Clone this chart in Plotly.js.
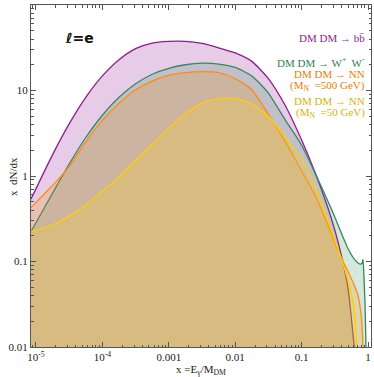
<!DOCTYPE html>
<html>
<head>
<meta charset="utf-8">
<script src="https://cdn.plot.ly/plotly-3.0.1.min.js"></script>
<style>html,body{margin:0;padding:0;background:#fff;}#chart{width:374px;height:377px;}</style>
</head>
<body>
<div id="chart"></div>
<script>
// DM DM -> b bbar (purple)
const bbX = [8.41e-6, 1.78e-5, 3.16e-5, 5.62e-5, 1e-4, 1.78e-4, 3.16e-4, 5.62e-4, 1e-3, 1.78e-3, 3.16e-3, 5.62e-3, 0.01, 0.0178, 0.0316, 0.0562, 0.1, 0.158, 0.251, 0.316, 0.398, 0.501, 0.603, 0.631];
const bbY = [0.537, 1.78, 4.07, 8.32, 14.8, 22.9, 30.9, 35.9, 37.6, 37.6, 35.5, 31.6, 27.5, 21.9, 13.8, 6.76, 2.63, 1.12, 0.417, 0.234, 0.117, 0.0479, 0.0126, 0.00891];
// DM DM -> W+ W- (green)
const wwX = [8.41e-6, 1.78e-5, 3.16e-5, 5.62e-5, 1e-4, 1.78e-4, 3.16e-4, 5.62e-4, 1e-3, 1.78e-3, 3.16e-3, 5.62e-3, 0.01, 0.0178, 0.0316, 0.0562, 0.1, 0.158, 0.251, 0.316, 0.398, 0.501, 0.631, 0.759, 0.813, 0.841, 0.871, 0.902, 0.933];
const wwY = [0.224, 0.631, 1.38, 2.82, 5.13, 8.32, 12.0, 15.5, 18.2, 20.0, 20.9, 20.4, 18.6, 14.8, 9.33, 4.57, 2.29, 1.10, 0.501, 0.331, 0.214, 0.141, 0.105, 0.0933, 0.0955, 0.106, 0.0631, 0.0316, 0.01];
// DM DM -> NN, M_N = 500 GeV (orange)
const nn500X = [8.41e-6, 1.33e-5, 1.78e-5, 3.16e-5, 5.62e-5, 1e-4, 1.78e-4, 3.16e-4, 5.62e-4, 1e-3, 1.78e-3, 3.16e-3, 5.62e-3, 0.01, 0.0178, 0.0316, 0.0562, 0.1, 0.158, 0.251, 0.316, 0.398, 0.501, 0.631, 0.708, 0.794, 0.841];
const nn500Y = [0.427, 0.617, 0.776, 1.29, 2.51, 4.47, 7.08, 10.2, 12.9, 15.1, 16.2, 16.6, 16.2, 13.8, 10.2, 5.25, 2.57, 1.15, 0.603, 0.263, 0.166, 0.110, 0.0759, 0.0513, 0.0398, 0.0224, 0.01];
// DM DM -> NN, M_N = 50 GeV (yellow)
const nn50X = [8.41e-6, 1.78e-5, 3.16e-5, 5.62e-5, 1e-4, 1.78e-4, 3.16e-4, 5.62e-4, 1e-3, 1.78e-3, 3.16e-3, 5.62e-3, 7.94e-3, 0.01, 0.0178, 0.0316, 0.0562, 0.1, 0.158, 0.251, 0.316, 0.398, 0.501, 0.631, 0.676];
const nn50Y = [0.224, 0.269, 0.339, 0.457, 0.661, 0.977, 1.51, 2.34, 3.63, 5.37, 7.08, 8.04, 8.13, 8.04, 6.92, 5.01, 2.88, 1.58, 0.776, 0.302, 0.178, 0.107, 0.0603, 0.0251, 0.01];

const xTickVals = [1e-5, 1e-4, 1e-3, 0.01, 0.1, 1];
const xTickText = ['10<sup>-5</sup>', '10<sup>-4</sup>', '0.001', '0.01', '0.1', '1'];
const yTickVals = [0.01, 0.1, 1, 10, 100];
const yTickText = ['0.01', '0.1', '1', '10', '100'];

const series = [
  {x: bbX, y: bbY, line: 'rgb(142,28,142)', fill: 'rgba(128,0,128,0.2)'},
  {x: wwX, y: wwY, line: 'rgb(52,138,92)', fill: 'rgba(46,139,87,0.2)'},
  {x: nn500X, y: nn500Y, line: 'rgb(255,140,10)', fill: 'rgba(255,140,0,0.2)'},
  {x: nn50X, y: nn50Y, line: 'rgb(255,208,0)', fill: 'rgba(255,215,0,0.2)'}
];

const traces = series.map(s => ({
  type: 'scatter', mode: 'lines', x: s.x, y: s.y,
  line: {color: s.line, width: 1.3, shape: 'spline', smoothing: 0.6},
  fill: 'tozeroy', fillcolor: s.fill, hoverinfo: 'skip', showlegend: false
}));

const serif = 'Liberation Serif, DejaVu Serif, serif';
const axisCommon = {
  type: 'log', showgrid: false, zeroline: false, showline: true,
  linecolor: '#555', linewidth: 1, mirror: 'allticks',
  ticks: 'inside', ticklen: 5, tickcolor: '#555', tickwidth: 1,
  tickfont: {family: serif, size: 11, color: '#222'},
  minor: {ticks: 'inside', ticklen: 2.5, tickcolor: '#555', dtick: 'D1', showgrid: false}
};

const layout = {
  width: 374, height: 377,
  margin: {l: 31, r: 3, t: 5, b: 30},
  paper_bgcolor: '#fff', plot_bgcolor: '#fff',
  xaxis: Object.assign({}, axisCommon, {
    range: [-5.075, 0.045], tickmode: 'array', tickvals: xTickVals, ticktext: xTickText,
    title: {text: 'x =E<sub>γ</sub>/M<sub>DM</sub>', font: {family: serif, size: 11, color: '#222'}, standoff: 0}
  }),
  yaxis: Object.assign({}, axisCommon, {
    range: [-2, 2], tickmode: 'array', tickvals: yTickVals, ticktext: yTickText
  }),
  annotations: [
    {xref: 'paper', yref: 'paper', x: -0.053, y: 0.5, xanchor: 'center', yanchor: 'middle', showarrow: false,
     textangle: -90, text: 'x  dN/dx', font: {family: serif, size: 11, color: '#222'}},
    {xref: 'paper', yref: 'paper', x: 0.095, y: 0.903, xanchor: 'left', yanchor: 'middle', showarrow: false,
     text: '<b>ℓ=e</b>', font: {family: 'DejaVu Sans', size: 14, color: '#111'}},
    {xref: 'paper', yref: 'paper', x: 0.988, y: 0.904, xanchor: 'right', yanchor: 'middle', showarrow: false,
     text: 'DM DM → bb\u0304', font: {family: serif, size: 11, color: 'rgb(140,30,140)'}},
    {xref: 'paper', yref: 'paper', x: 0.988, y: 0.833, xanchor: 'right', yanchor: 'middle', showarrow: false,
     text: 'DM DM → W<sup>+</sup>  W<sup>-</sup>', font: {family: serif, size: 11, color: 'rgb(46,130,80)'}},
    {xref: 'paper', yref: 'paper', x: 0.988, y: 0.797, xanchor: 'right', yanchor: 'middle', showarrow: false,
     text: 'DM DM → NN', font: {family: serif, size: 11, color: 'rgb(235,125,0)'}},
    {xref: 'paper', yref: 'paper', x: 0.988, y: 0.764, xanchor: 'right', yanchor: 'middle', showarrow: false,
     text: '(M<sub>N</sub>  =500 GeV)', font: {family: serif, size: 11, color: 'rgb(235,125,0)'}},
    {xref: 'paper', yref: 'paper', x: 0.988, y: 0.718, xanchor: 'right', yanchor: 'middle', showarrow: false,
     text: 'DM DM → NN', font: {family: serif, size: 11, color: 'rgb(215,180,0)'}},
    {xref: 'paper', yref: 'paper', x: 0.988, y: 0.684, xanchor: 'right', yanchor: 'middle', showarrow: false,
     text: '(M<sub>N</sub>  =50 GeV)', font: {family: serif, size: 11, color: 'rgb(215,180,0)'}}
  ]
};

Plotly.newPlot('chart', traces, layout, {displayModeBar: false, staticPlot: true});
</script>
</body>
</html>
